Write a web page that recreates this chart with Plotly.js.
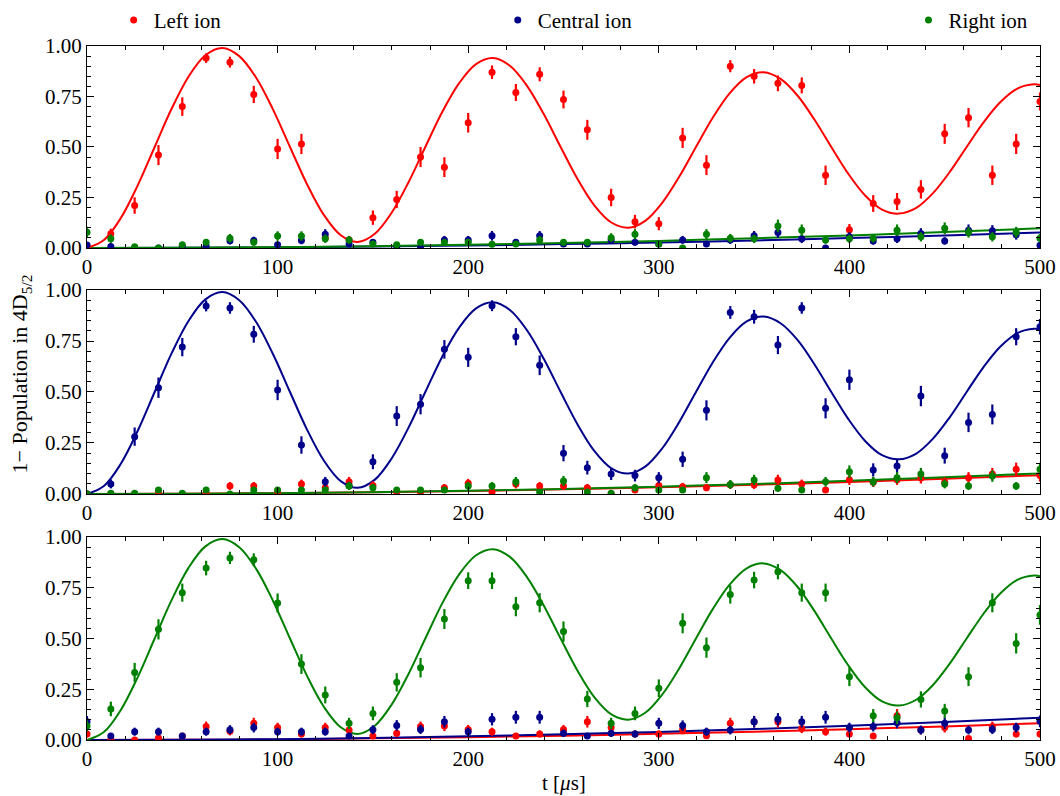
<!DOCTYPE html>
<html>
<head>
<meta charset="utf-8">
<script src="https://cdn.plot.ly/plotly-3.0.1.min.js"></script>
<style>html,body{margin:0;padding:0;background:#fff;}#chart{width:1060px;height:796px;}</style>
</head>
<body>
<div id="chart"></div>
<script>
// time axis of the measurements (µs)
const tData = [0,12.5,25,37.5,50,62.5,75,87.5,100,112.5,125,137.5,150,162.5,175,187.5,200,212.5,225,237.5,250,262.5,275,287.5,300,312.5,325,337.5,350,362.5,375,387.5,400,412.5,425,437.5,450,462.5,475,487.5,500];

// Panel 1 (Left ion addressed)
const red1   = [0.01,0.07,0.21,0.46,0.70,0.94,0.92,0.76,0.49,0.515,0.05,0.04,0.15,0.24,0.45,0.40,0.62,0.87,0.77,0.86,0.735,0.585,0.25,0.13,0.12,0.545,0.41,0.90,0.85,0.815,0.805,0.36,0.09,0.22,0.23,0.29,0.565,0.645,0.36,0.515,0.725];
const blue1  = [0.015,0.007,0.0,0.0,0.01,0.01,0.036,0.037,0.016,0.037,0.068,0.02,0.028,0.008,0.0,0.04,0.04,0.06,0.028,0.06,0.02,0.02,0.04,0.028,0.02,0.04,0.02,0.04,0.06,0.076,0.045,0.0,0.055,0.035,0.045,0.072,0.035,0.088,0.085,0.066,0.013];
const green1 = [0.078,0.046,0.006,0.0,0.016,0.028,0.048,0.028,0.059,0.059,0.046,0.04,0.02,0.016,0.028,0.027,0.028,0.018,0.02,0.04,0.028,0.028,0.051,0.068,0.02,0.0,0.068,0.048,0.045,0.109,0.088,0.04,0.045,0.048,0.088,0.055,0.097,0.078,0.055,0.078,0.048];

// Panel 2 (Central ion addressed)
const red2   = [0.0,0.0,0.0,0.01,0.0,0.003,0.039,0.039,0.01,0.049,0.031,0.06,0.042,0.01,0.01,0.031,0.052,0.01,0.049,0.039,0.039,0.031,0.0,0.02,0.041,0.036,0.031,0.045,0.045,0.069,0.049,0.02,0.07,0.058,0.07,0.078,0.058,0.08,0.098,0.121,0.09];
const blue2  = [0.0,0.049,0.281,0.521,0.72,0.922,0.912,0.783,0.51,0.24,0.06,0.04,0.158,0.382,0.44,0.709,0.67,0.923,0.771,0.631,0.2,0.129,0.098,0.09,0.08,0.17,0.41,0.89,0.869,0.73,0.912,0.42,0.56,0.118,0.137,0.48,0.188,0.351,0.39,0.771,0.82];
const green2 = [0.0,0.003,0.003,0.02,0.003,0.02,0.0,0.02,0.02,0.02,0.02,0.039,0.031,0.02,0.02,0.02,0.039,0.039,0.06,0.01,0.064,0.01,0.003,0.031,0.02,0.02,0.08,0.047,0.069,0.028,0.02,0.06,0.109,0.06,0.08,0.098,0.049,0.039,0.088,0.039,0.121];

// Panel 3 (Right ion addressed)
const red3   = [0.03,0.0,0.0,0.01,0.02,0.066,0.043,0.082,0.061,0.03,0.061,0.049,0.02,0.033,0.066,0.069,0.052,0.041,0.02,0.03,0.052,0.09,0.061,0.03,0.03,0.05,0.021,0.082,0.09,0.09,0.057,0.041,0.03,0.02,0.12,0.049,0.061,0.008,0.066,0.03,0.03];
const blue3  = [0.09,0.02,0.041,0.041,0.02,0.041,0.051,0.061,0.041,0.041,0.041,0.02,0.051,0.072,0.052,0.09,0.041,0.102,0.112,0.112,0.033,0.02,0.033,0.03,0.082,0.071,0.041,0.049,0.09,0.102,0.09,0.112,0.061,0.067,0.085,0.049,0.082,0.049,0.052,0.061,0.092];
const green3 = [0.069,0.153,0.333,0.545,0.726,0.847,0.897,0.888,0.675,0.374,0.222,0.082,0.131,0.284,0.356,0.596,0.785,0.785,0.657,0.676,0.534,0.202,0.082,0.131,0.255,0.575,0.455,0.717,0.788,0.829,0.726,0.726,0.312,0.12,0.11,0.2,0.143,0.312,0.676,0.476,0.616];

// fitted Rabi oscillation of the addressed ion
const fitT    = [0,8.875,17.75,26.625,35.5,44.375,53.25,62.125,71,79.875,88.75,97.625,106.5,115.375,124.25,133.125,142,150.875,159.75,168.625,177.5,186.375,195.25,204.125,213,221.875,230.75,239.625,248.5,257.375,266.25,275.125,284,292.875,301.75,310.625,319.5,328.375,337.25,346.125,355,363.875,372.75,381.625,390.5,399.375,408.25,417.125,426,434.875,443.75,452.625,461.5,470.375,479.25,488.125,497,500];
const fitMain = [0.000,0.039,0.148,0.310,0.500,0.689,0.848,0.954,0.990,0.950,0.843,0.685,0.500,0.317,0.164,0.063,0.030,0.069,0.173,0.324,0.500,0.673,0.816,0.910,0.940,0.902,0.804,0.663,0.500,0.341,0.210,0.126,0.100,0.134,0.223,0.351,0.500,0.646,0.767,0.846,0.870,0.837,0.755,0.636,0.500,0.368,0.260,0.190,0.170,0.197,0.270,0.376,0.500,0.622,0.723,0.789,0.810,0.807];

// fitted crosstalk curves of neighbouring ions
const ctT      = [0,50,100,150,200,250,300,350,400,450,500];
const ctBlue1  = [0,0.001,0.003,0.007,0.012,0.019,0.027,0.037,0.049,0.062,0.076];
const ctGreen1 = [0,0.001,0.004,0.009,0.016,0.024,0.035,0.048,0.062,0.079,0.097];
const ctRed2   = [0,0.001,0.004,0.008,0.015,0.023,0.033,0.045,0.059,0.075,0.092];
const ctGreen2 = [0,0.001,0.004,0.009,0.016,0.025,0.036,0.049,0.065,0.082,0.101];
const ctRed3   = [0,0.001,0.003,0.008,0.014,0.021,0.031,0.041,0.053,0.067,0.082];
const ctBlue3  = [0,0.001,0.004,0.010,0.018,0.028,0.040,0.054,0.070,0.089,0.110];

const legendNames = ["Left ion", "Central ion", "Right ion"];
const shots = 100;

const RED = "#ff0000", BLUE = "#00008b", GREEN = "#008000";
const FONT = "Liberation Serif, DejaVu Serif, serif";
const FS = 21;

function errs(v){ return v.map(p => Math.sqrt(Math.max(p*(1-p),0)/shots)); }

function pts(y, color, ax, name, legend, show){
  return {x: tData, y: y, xaxis: ax[0], yaxis: ax[1], type: "scatter", mode: "markers",
    name: name, legend: legend, showlegend: show,
    marker: {color: color, size: 7},
    error_y: {type: "data", array: errs(y), visible: true, color: color, thickness: 2.2, width: 0}};
}
function line(x, y, color, ax){
  return {x: x, y: y, xaxis: ax[0], yaxis: ax[1], type: "scatter", mode: "lines",
    line: {color: color, width: 2, shape: "spline", smoothing: 1}, showlegend: false, hoverinfo: "skip"};
}

const A1 = ["x", "y"], A2 = ["x2", "y2"], A3 = ["x3", "y3"];
const traces = [
  line(ctT, ctBlue1, BLUE, A1), line(ctT, ctGreen1, GREEN, A1), line(fitT, fitMain, RED, A1),
  pts(red1, RED, A1, legendNames[0], "legend", true),
  pts(blue1, BLUE, A1, legendNames[1], "legend2", true),
  pts(green1, GREEN, A1, legendNames[2], "legend3", true),

  line(ctT, ctRed2, RED, A2), line(ctT, ctGreen2, GREEN, A2), line(fitT, fitMain, BLUE, A2),
  pts(red2, RED, A2, legendNames[0], "legend", false),
  pts(blue2, BLUE, A2, legendNames[1], "legend2", false),
  pts(green2, GREEN, A2, legendNames[2], "legend3", false),

  line(ctT, ctRed3, RED, A3), line(ctT, ctBlue3, BLUE, A3), line(fitT, fitMain, GREEN, A3),
  pts(red3, RED, A3, legendNames[0], "legend", false),
  pts(blue3, BLUE, A3, legendNames[1], "legend2", false),
  pts(green3, GREEN, A3, legendNames[2], "legend3", false)
];

function xax(anchor){
  return {anchor: anchor, domain: [0, 1], range: [0, 500], dtick: 100, tick0: 0,
    ticks: "inside", ticklen: 7, tickwidth: 1, tickcolor: "#000",
    showline: true, linecolor: "#000", linewidth: 1, mirror: "allticks",
    showgrid: false, zeroline: false,
    minor: {dtick: 20, tick0: 0, ticks: "inside", ticklen: 4, tickcolor: "#000", showgrid: false},
    tickfont: {family: FONT, size: FS, color: "#000"}};
}
function yax(anchor, dom){
  return {anchor: anchor, domain: dom, range: [0, 1], dtick: 0.25, tick0: 0, tickformat: ".2f",
    ticks: "inside", ticklen: 7, tickwidth: 1, tickcolor: "#000",
    showline: true, linecolor: "#000", linewidth: 1, mirror: "allticks",
    showgrid: false, zeroline: false,
    minor: {dtick: 0.05, tick0: 0, ticks: "inside", ticklen: 4, tickcolor: "#000", showgrid: false},
    tickfont: {family: FONT, size: FS, color: "#000"}};
}
function leg(x){
  return {x: x, y: 1.037, xanchor: "left", yanchor: "middle", orientation: "h",
    bgcolor: "rgba(0,0,0,0)", borderwidth: 0, font: {family: FONT, size: FS, color: "#000"}};
}

const layout = {
  width: 1060, height: 796,
  margin: {l: 87, r: 20, t: 46, b: 56, autoexpand: false},
  paper_bgcolor: "#fff", plot_bgcolor: "#fff",
  font: {family: FONT, size: FS, color: "#000"},
  xaxis: xax("y"), yaxis: yax("x", [0.709, 1]),
  xaxis2: xax("y2"), yaxis2: yax("x2", [0.3545, 0.6484]),
  xaxis3: xax("y3"), yaxis3: yax("x3", [0, 0.2925]),
  legend: leg(0.028), legend2: leg(0.431), legend3: leg(0.862),
  annotations: [
    {xref: "paper", yref: "paper", x: -0.069, y: 0.527, xanchor: "center", yanchor: "middle",
     textangle: -90, showarrow: false, text: "1− Population in 4D<sub>5/2</sub>",
     font: {family: FONT, size: 22, color: "#000"}},
    {xref: "paper", yref: "paper", x: 0.5, y: -0.062, xanchor: "center", yanchor: "middle",
     showarrow: false, text: "t [<i>μ</i>s]", font: {family: FONT, size: FS, color: "#000"}}
  ]
};

Plotly.newPlot("chart", traces, layout, {displayModeBar: false, staticPlot: true});
</script>
</body>
</html>
